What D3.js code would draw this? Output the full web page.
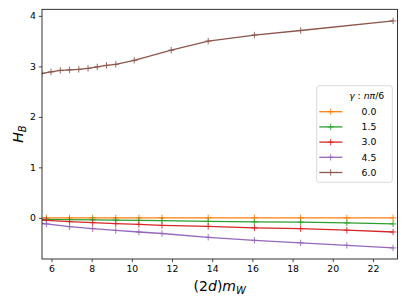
<!DOCTYPE html>
<html>
<head>
<meta charset="utf-8">
<script src="https://cdn.jsdelivr.net/npm/d3@7"></script>
<style>
  body { margin: 0; background: #fff; }
  svg { display: block; font-family: "DejaVu Sans", sans-serif; }
</style>
</head>
<body>
<div id="chart"></div>
<script>
// data
const gammaLabels = ['0.0', '1.5', '3.0', '4.5', '6.0'];
const colors = ['#ff7f0e', '#2ca02c', '#d62728', '#9467bd', '#8c564b'];

const xCommon = [4.6, 5.75, 6.9, 8.05, 9.2, 10.35, 11.5, 13.8, 16.1, 18.4, 20.7, 23.0];
const yOrange = [0.0, 0.0, 0.0, 0.0, 0.0, 0.0, 0.0, 0.0, 0.0, 0.0, 0.0, 0.0];
const yGreen = [-0.025, -0.03, -0.035, -0.04, -0.045, -0.05, -0.055, -0.07, -0.08, -0.085, -0.10, -0.12];
const yRed = [-0.03, -0.05, -0.075, -0.095, -0.115, -0.13, -0.15, -0.17, -0.20, -0.215, -0.245, -0.28];
const yPurple = [-0.08, -0.12, -0.175, -0.215, -0.25, -0.28, -0.31, -0.385, -0.445, -0.495, -0.545, -0.595];

const xBrown = [5.52, 5.98, 6.44, 6.90, 7.36, 7.82, 8.28, 8.74, 9.20, 10.12, 11.96, 13.8, 16.1, 18.4, 23.0];
const yBrown = [2.86, 2.89, 2.92, 2.93, 2.94, 2.96, 2.99, 3.02, 3.04, 3.12, 3.32, 3.50, 3.62, 3.71, 3.90];

const xTicks = [6, 8, 10, 12, 14, 16, 18, 20, 22];
const yTicks = [0, 1, 2, 3, 4];

const seriesX = [xCommon, xCommon, xCommon, xCommon, xBrown];
const seriesY = [yOrange, yGreen, yRed, yPurple, yBrown];

const width = 407;
const height = 305;
const margin = {top: 9.3, right: 9.5, bottom: 46, left: 42};

const svg = d3.select('#chart')
    .append('svg')
    .attr('width', width)
    .attr('height', height);

const x = d3.scaleLinear()
    .domain([5.53, 23.22])
    .range([margin.left, width - margin.right]);

const y = d3.scaleLinear()
    .domain([-0.815, 4.13])
    .range([height - margin.bottom, margin.top]);

svg.append('clipPath')
    .attr('id', 'clip')
    .append('rect')
    .attr('x', margin.left)
    .attr('y', margin.top)
    .attr('width', width - margin.left - margin.right)
    .attr('height', height - margin.top - margin.bottom);

const line = d3.line()
    .x(d => x(d[0]))
    .y(d => y(d[1]));

const plot = svg.append('g').attr('clip-path', 'url(#clip)');

const ms = 3.2; // half size of the + marker

seriesY.forEach((ys, i) => {
    const pts = seriesX[i].map((xv, j) => [xv, ys[j]]);
    plot.append('path')
        .datum(pts)
        .attr('fill', 'none')
        .attr('stroke', colors[i])
        .attr('stroke-width', 1.3)
        .attr('d', line);
    plot.selectAll('.m' + i)
        .data(pts)
        .enter()
        .append('path')
        .attr('class', 'm' + i)
        .attr('stroke', colors[i])
        .attr('stroke-width', 0.9)
        .attr('d', d => `M${x(d[0]) - ms},${y(d[1])}h${2 * ms}M${x(d[0])},${y(d[1]) - ms}v${2 * ms}`);
});

// axes
const xAxis = svg.append('g')
    .attr('transform', `translate(0,${height - margin.bottom})`)
    .call(d3.axisBottom(x).tickValues(xTicks).tickFormat(d3.format('d'))
        .tickSize(3.1).tickPadding(3).tickSizeOuter(0));

const yAxis = svg.append('g')
    .attr('transform', `translate(${margin.left},0)`)
    .call(d3.axisLeft(y).tickValues(yTicks).tickFormat(d3.format('d'))
        .tickSize(3.1).tickPadding(3).tickSizeOuter(0));

[xAxis, yAxis].forEach(a => {
    a.select('.domain').remove();
    a.selectAll('line').attr('stroke', '#000').attr('stroke-width', 0.7);
    a.selectAll('text')
        .attr('fill', '#000')
        .style('font-size', '9.3px')
        .style('font-family', '"DejaVu Sans", sans-serif');
});

// frame
svg.append('rect')
    .attr('x', margin.left)
    .attr('y', margin.top)
    .attr('width', width - margin.left - margin.right)
    .attr('height', height - margin.top - margin.bottom)
    .attr('fill', 'none')
    .attr('stroke', '#000')
    .attr('stroke-width', 0.8);

// axis labels
const xl = svg.append('text')
    .attr('x', (margin.left + width - margin.right) / 2)
    .attr('y', 291)
    .attr('text-anchor', 'middle')
    .style('font-size', '14px');
xl.append('tspan').text('(2');
xl.append('tspan').style('font-style', 'italic').text('d');
xl.append('tspan').text(')');
xl.append('tspan').style('font-style', 'italic').text('m');
xl.append('tspan').style('font-style', 'italic').style('font-size', '10px').attr('dy', 3).text('W');

const yl = svg.append('text')
    .attr('transform', `translate(23,${(margin.top + height - margin.bottom) / 2}) rotate(-90)`)
    .attr('text-anchor', 'middle')
    .style('font-size', '14px');
yl.append('tspan').style('font-style', 'italic').text('H');
yl.append('tspan').style('font-style', 'italic').style('font-size', '10px').attr('dy', 3).text('B');

// legend
const legend = svg.append('g').attr('transform', 'translate(316.7,85.7)');

legend.append('rect')
    .attr('width', 75.6)
    .attr('height', 96.6)
    .attr('rx', 2.5)
    .attr('fill', 'rgba(255,255,255,0.8)')
    .attr('stroke', '#d0d0d0')
    .attr('stroke-width', 0.8);

const lt = legend.append('text')
    .attr('x', 50)
    .attr('y', 13.3)
    .attr('text-anchor', 'middle')
    .style('font-size', '9.3px');
lt.append('tspan').style('font-style', 'italic').text('γ');
lt.append('tspan').text(' : ');
lt.append('tspan').style('font-style', 'italic').text('nπ');
lt.append('tspan').text('/6');

const items = legend.selectAll('.item')
    .data(gammaLabels)
    .enter()
    .append('g')
    .attr('class', 'item')
    .attr('transform', (d, i) => `translate(0,${26 + 15.2 * i})`);

items.append('line')
    .attr('x1', 2.6)
    .attr('x2', 25.6)
    .attr('stroke', (d, i) => colors[i])
    .attr('stroke-width', 1.3);

items.append('path')
    .attr('stroke', (d, i) => colors[i])
    .attr('stroke-width', 0.9)
    .attr('d', `M${14 - ms},0h${2 * ms}M14,${-ms}v${2 * ms}`);

items.append('text')
    .text(d => d)
    .attr('x', 52.3)
    .attr('y', 3.3)
    .attr('text-anchor', 'middle')
    .style('font-size', '9.3px');
</script>
</body>
</html>
